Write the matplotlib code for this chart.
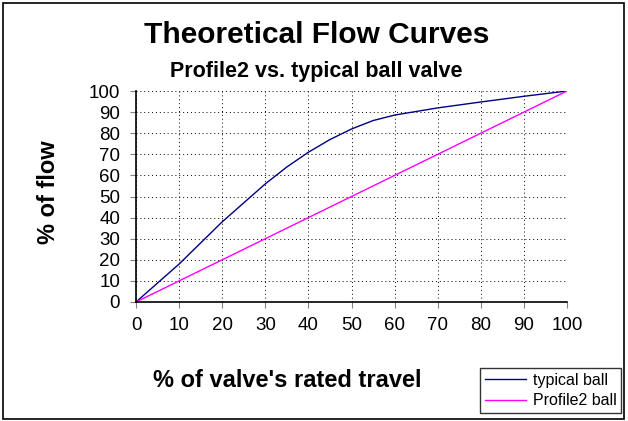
import numpy as np
import matplotlib.pyplot as plt
from matplotlib.patches import Rectangle

plt.rcParams['font.family'] = ['Liberation Sans', 'DejaVu Sans']

# % of valve travel
travel = [0, 5, 10, 15, 20, 25, 30, 35, 40, 45, 50, 55, 60, 70, 80, 90, 100]
# typical ball valve, % of flow
typical = [0, 9, 18, 28, 38, 47, 56, 64, 71, 77, 82, 86, 88.6, 92, 94.8, 97.5, 100]
# Profile2 ball (linear)
profile_x = [0, 10, 20, 30, 40, 50, 60, 70, 80, 90, 100]
profile_y = [0, 10, 20, 30, 40, 50, 60, 70, 80, 90, 100]

fig = plt.figure(figsize=(6.28, 4.21), dpi=100)
fig.patches.append(Rectangle((0.004, 0.004), 0.99, 0.99, transform=fig.transFigure,
                             fill=False, edgecolor='black', linewidth=1.2))

ax = fig.add_axes([0.2166, 0.2827, 0.6863, 0.5011])
l1, = ax.plot(travel, typical, color='#000080', linewidth=1, label='typical ball')
l2, = ax.plot(profile_x, profile_y, color='#FF00FF', linewidth=1, label='Profile2 ball')

ax.set_xlim(0, 100)
ax.set_ylim(0, 100)
ax.set_xticks(np.arange(0, 101, 10))
ax.set_yticks(np.arange(0, 101, 10))
ax.tick_params(labelsize=13.5, length=4.5, color='#808080', pad=6)
ax.tick_params(axis='y', pad=7)
ax.grid(True, color='black', linestyle=(0, (1, 3)), linewidth=0.7)
ax.spines['top'].set_visible(False)
ax.spines['right'].set_visible(False)
ax.spines['left'].set_linewidth(1.2)
ax.spines['bottom'].set_linewidth(1.2)

fig.text(0.504, 0.917, 'Theoretical Flow Curves', ha='center', va='center',
         fontsize=21.5, fontweight='bold')
fig.text(0.504, 0.829, 'Profile2 vs. typical ball valve', ha='center', va='center',
         fontsize=15.5, fontweight='bold')
fig.text(0.457, 0.097, "% of valve's rated travel", ha='center', va='center',
         fontsize=17, fontweight='bold')
fig.text(0.078, 0.544, '% of flow', ha='center', va='center', rotation=90,
         fontsize=17, fontweight='bold')

leg = fig.legend(handles=[l1, l2], loc='lower right', bbox_to_anchor=(0.989, 0.019),
                 fontsize=11.5, frameon=True, fancybox=False, edgecolor='black',
                 handlelength=2.6, handletextpad=0.4, borderpad=0.3,
                 labelspacing=0.35, borderaxespad=0)
leg.get_frame().set_linewidth(1)

plt.savefig('out.png')
